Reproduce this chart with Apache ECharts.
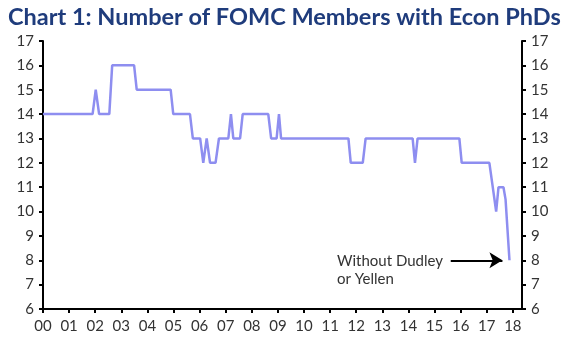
<!DOCTYPE html>
<html>
<head>
<meta charset="utf-8">
<script src="https://cdn.jsdelivr.net/npm/echarts@6/dist/echarts.min.js"></script>
<style>
  html, body { margin: 0; padding: 0; background: #fff; }
  #chart { width: 570px; height: 351px; }
</style>
</head>
<body>
<div id="chart"></div>
<script>
// year (decimal) and number of FOMC members with econ PhDs
const years = [
  2000.0, 2001.9, 2002.02, 2002.15, 2002.54, 2002.65, 2003.49, 2003.59, 2004.89, 2004.99,
  2005.63, 2005.74, 2006.02, 2006.14, 2006.27, 2006.4, 2006.61, 2006.74, 2007.1, 2007.2,
  2007.29, 2007.55, 2007.65, 2008.63, 2008.74, 2008.95, 2009.04, 2009.12, 2011.7, 2011.79,
  2012.25, 2012.36, 2014.16, 2014.25, 2014.35, 2015.95, 2016.04, 2017.1, 2017.23, 2017.28,
  2017.36, 2017.45, 2017.64, 2017.72, 2017.87
];
const members = [
  14, 14, 15, 14, 14, 16, 16, 15, 15, 14,
  14, 13, 13, 12, 13, 12, 12, 13, 13, 14,
  13, 13, 14, 14, 13, 13, 14, 13, 13, 12,
  12, 13, 13, 12, 13, 13, 12, 12, 11, 11,
  10, 11, 11, 10.5, 8
];
const yTicks = [6, 7, 8, 9, 10, 11, 12, 13, 14, 15, 16, 17];
const arrowFrom = [2015.62, 8];
const arrowTo = [2017.6, 8];
const noteText = 'Without Dudley\nor Yellen';

const font = 'Lato';
const chart = echarts.init(document.getElementById('chart'));

const yAxisBase = {
  type: 'value',
  min: yTicks[0],
  max: yTicks[yTicks.length - 1],
  interval: 1,
  axisLine: { show: true, lineStyle: { color: '#000', width: 2 } },
  axisTick: { show: true, length: 4, lineStyle: { color: '#000', width: 2 } },
  axisLabel: { color: '#333', fontSize: 15, fontFamily: font, margin: 9 },
  splitLine: { show: false }
};

chart.setOption({
  animation: false,
  title: {
    text: 'Chart 1: Number of FOMC Members with Econ PhDs',
    left: 3,
    top: 0,
    textStyle: { color: '#1f3c7c', fontSize: 23.5, fontWeight: 'bold', fontFamily: font }
  },
  grid: { left: 43, right: 48, top: 41, bottom: 42 },
  xAxis: {
    type: 'value',
    min: 2000,
    max: 2018.35,
    interval: 1,
    axisLine: { show: true, onZero: false, lineStyle: { color: '#000', width: 2 } },
    axisTick: { show: true, length: 4, lineStyle: { color: '#000', width: 2 } },
    axisLabel: {
      color: '#333', fontSize: 15, fontFamily: font, margin: 10,
      showMaxLabel: false,
      formatter: function (v) {
        if (Math.abs(v - Math.round(v)) > 1e-6) return '';
        return String(Math.round(v) - 2000).padStart(2, '0');
      }
    },
    splitLine: { show: false }
  },
  yAxis: [
    Object.assign({}, yAxisBase, { position: 'left' }),
    Object.assign({}, yAxisBase, { position: 'right' })
  ],
  series: [
    {
      type: 'line',
      data: years.map((y, i) => [y, members[i]]),
      symbol: 'none',
      lineStyle: { color: '#8e8ef0', width: 2.5 },
      markLine: {
        silent: true,
        symbol: ['none', 'arrow'],
        symbolSize: [12, 13],
        lineStyle: { color: '#000', width: 2, type: 'solid' },
        label: { show: false },
        data: [[{ coord: arrowFrom }, { coord: arrowTo }]]
      }
    }
  ],
  graphic: [
    {
      type: 'text',
      left: 337,
      top: 252,
      style: {
        text: noteText,
        fill: '#333',
        fontSize: 15,
        fontFamily: font,
        lineHeight: 18
      }
    }
  ]
});
</script>
</body>
</html>
